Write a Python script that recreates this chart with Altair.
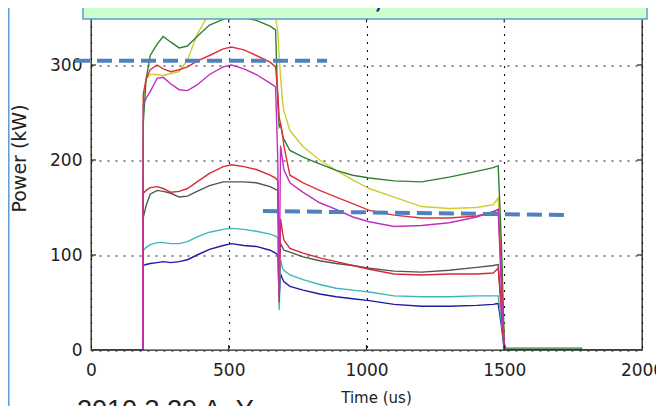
import altair as alt
import pandas as pd

# Common time grid (us)
T = [0, 188, 190, 200, 215, 240, 262, 290, 320, 350, 385, 430, 480, 510, 555, 600, 650, 670,
     678, 683, 688, 695, 700, 722, 770, 830, 890, 950, 1010, 1100, 1200, 1300, 1400, 1460,
     1478, 1490, 1500, 1505, 1780, 1782, 2000]

# Power (kW) per trace on the grid
BLUE = [0, 0, 89, 90, 91, 92, 93, 92, 93, 95, 100, 106, 110, 112, 110, 109, 105, 102, 100, 55,
        80, 75, 72, 67, 63, 59, 56, 54, 52, 48, 46, 46, 47, 48, 49, 25, 0, 0, 0, 0, 0]
CYAN = [0, 0, 105, 108, 111, 113, 113, 112, 112, 114, 119, 124, 127, 128, 127, 125, 122, 120, 118, 42,
        95, 86, 84, 79, 74, 69, 65, 63, 61, 57, 56, 56, 57, 57, 57, 30, 0, 0, 0, 0, 0]
GRAY = [0, 0, 140, 152, 164, 168, 167, 165, 161, 162, 167, 173, 177, 177, 177, 176, 172, 169, 168, 90,
        112, 108, 105, 103, 98, 94, 91, 89, 86, 83, 82, 84, 87, 89, 90, 45, 0, 0, 0, 0, 0]
YELLOW = [0, 0, 265, 285, 290, 290, 289, 291, 293, 305, 332, 355, 365, 368, 368, 366, 360, 350, 335, 310,
          288, 262, 252, 231, 214, 200, 189, 179, 170, 161, 151, 149, 150, 153, 160, 95, 5, 0, 0, 0, 0]
GREEN = [0, 0, 240, 285, 310, 322, 330, 324, 318, 320, 330, 342, 348, 351, 350, 347, 341, 337, 260, 235,
         238, 226, 222, 210, 203, 196, 189, 184, 181, 178, 177, 182, 188, 192, 194, 110, 8, 2, 2, 0, 0]
RED1 = [0, 0, 270, 285, 295, 300, 296, 293, 295, 298, 304, 310, 317, 319, 316, 310, 303, 298, 270, 245,
        238, 228, 215, 184, 176, 168, 161, 154, 147, 142, 139, 139, 141, 145, 148, 80, 0, 0, 0, 0, 0]
RED2 = [0, 0, 165, 168, 171, 172, 170, 166, 167, 170, 177, 186, 193, 195, 193, 190, 184, 181, 178, 50,
        138, 124, 116, 107, 102, 97, 93, 89, 85, 80, 79, 80, 80, 81, 86, 40, 0, 0, 0, 0, 0]
MAGENTA = [0, 0, 258, 265, 272, 286, 287, 280, 274, 273, 279, 290, 298, 300, 296, 290, 281, 277, 200, 60,
           215, 200, 190, 176, 166, 155, 148, 140, 135, 130, 131, 134, 140, 146, 148, 60, 0, 0, 0, 0, 0]

SERIES = [("blue", BLUE, "#1c1ca0"), ("cyan", CYAN, "#3cb8b8"), ("gray", GRAY, "#4f574f"),
          ("yellow", YELLOW, "#cccc33"), ("green", GREEN, "#2f7f2f"), ("red1", RED1, "#e0303a"),
          ("red2", RED2, "#d42a3a"), ("magenta", MAGENTA, "#c030c0")]

# dark red zero baseline segments
BASE_T = [0, 190, 1505, 2000]
BASE_P = [0, 0, 0, 0]
BASE_SEG = ["a", "a", "b", "b"]

# dashed annotation lines (time, power)
DASH1_T = [-58, 857]
DASH1_P = [304.5, 304.5]
DASH2_T = [624, 1728]
DASH2_P = [146.3, 142.1]

X_TICKS = [0, 500, 1000, 1500, 2000]
Y_TICKS = [0, 100, 200, 300]
X_INNER = [500, 1000, 1500]
Y_INNER = [100, 200, 300]
CAPTION = "2010 3 29 A. Y"

W, H = 551, 332.5
FONT = "DejaVu Sans"

xs = alt.Scale(domain=[0, 2000], nice=False, zero=False)
ys = alt.Scale(domain=[0, 350], nice=False)

X_AX = alt.Axis(values=X_TICKS, labelFont=FONT, labelFontSize=17, labelColor="#222",
                labelPadding=12, ticks=False, tickSize=0, domain=False, grid=True,
                gridDash=[2, 6], gridColor="#111", gridWidth=1.1, gridOpacity=1,
                labelFlush=False, labelOverlap=False, format="d",
                title="Time (us)", titleFont=FONT, titleFontSize=15, titleFontWeight="normal",
                titleColor="#222", titleX=285, titleY=52, titleAlign="center",
                titleBaseline="alphabetic")
Y_AX = alt.Axis(values=Y_TICKS, labelFont=FONT, labelFontSize=17, labelColor="#222",
                labelPadding=9, ticks=False, tickSize=0, domain=False, grid=True,
                gridDash=[2, 6], gridColor="#111", gridWidth=1.1, gridOpacity=1,
                labelFlush=False, labelOverlap=False, format="d",
                title="Power (kW)", titleFont=FONT, titleFontSize=19, titleFontWeight="normal",
                titleColor="#222", titleAngle=270, titleX=-66, titleY=140.5,
                titleAlign="center", titleBaseline="alphabetic")

layers = []
for name, vals, col in SERIES:
    df = pd.DataFrame({"t": T, "p": vals})
    layers.append(
        alt.Chart(df).mark_line(color=col, strokeWidth=1.4, clip=True).encode(
            x=alt.X("t:Q", scale=xs, axis=X_AX),
            y=alt.Y("p:Q", scale=ys, axis=Y_AX),
        )
    )

base_df = pd.DataFrame({"t": BASE_T, "p": BASE_P, "seg": BASE_SEG})
layers.append(
    alt.Chart(base_df).mark_line(color="#8b1a1a", strokeWidth=2.2, clip=True).encode(
        x=alt.X("t:Q", scale=xs, axis=X_AX), y=alt.Y("p:Q", scale=ys, axis=Y_AX),
        detail="seg:N")
)

# inward ticks
xt = pd.DataFrame({"t": X_INNER})
layers.append(alt.Chart(xt).mark_rule(color="#222", strokeWidth=1.2).encode(
    x=alt.X("t:Q", scale=xs, axis=X_AX), y=alt.value(H), y2=alt.value(H - 5)))
layers.append(alt.Chart(xt).mark_rule(color="#222", strokeWidth=1.2).encode(
    x=alt.X("t:Q", scale=xs, axis=X_AX), y=alt.value(0), y2=alt.value(5)))
yt = pd.DataFrame({"p": Y_INNER})
layers.append(alt.Chart(yt).mark_rule(color="#222", strokeWidth=1.2).encode(
    y=alt.Y("p:Q", scale=ys, axis=Y_AX), x=alt.value(0), x2=alt.value(5)))
layers.append(alt.Chart(yt).mark_rule(color="#222", strokeWidth=1.2).encode(
    y=alt.Y("p:Q", scale=ys, axis=Y_AX), x=alt.value(W - 5), x2=alt.value(W)))

# dashed blue annotation lines
for dt, dp in [(DASH1_T, DASH1_P), (DASH2_T, DASH2_P)]:
    ddf = pd.DataFrame({"t": dt, "p": dp})
    layers.append(alt.Chart(ddf).mark_line(color="#4f81bd", strokeWidth=4,
                                           strokeDash=[15, 7], clip=False).encode(
        x=alt.X("t:Q", scale=xs, axis=X_AX), y=alt.Y("p:Q", scale=ys, axis=Y_AX)))

# green callout box at top (cut off) and its text fragment
box_df = pd.DataFrame({"k": [0]})
layers.append(alt.Chart(box_df).mark_rect(fill="#ccffcc", stroke="#5b9bd5", strokeWidth=1.5).encode(
    x=alt.value(-8), x2=alt.value(556), y=alt.value(-40), y2=alt.value(1.5)))
layers.append(alt.Chart(pd.DataFrame({"s": [","]})).mark_text(
    font="Liberation Sans", fontSize=30, fontWeight="bold", color="#1a1a9a",
    align="center", baseline="alphabetic").encode(
    text="s:N", x=alt.value(287), y=alt.value(-11)))

# left slide frame line
layers.append(alt.Chart(box_df).mark_rule(color="#5b9bd5", strokeWidth=1.5).encode(
    x=alt.value(-82.2), y=alt.value(-20), y2=alt.value(430)))

# bottom caption (cut off by window)
layers.append(alt.Chart(pd.DataFrame({"s": [CAPTION]})).mark_text(
    font="Liberation Sans", fontSize=27, color="#222", align="left",
    baseline="alphabetic").encode(text="s:N", x=alt.value(-14), y=alt.value(401.5)))

chart = alt.layer(*layers).properties(
    width=W, height=H,
    autosize=alt.AutoSizeParams(type="none"),
    padding={"left": 83, "top": 9.5, "right": 14, "bottom": 62},
    background="white",
).configure_view(stroke="#222", strokeWidth=1.3)

chart.save("out.html", embed_options={"renderer": "svg", "actions": False})
